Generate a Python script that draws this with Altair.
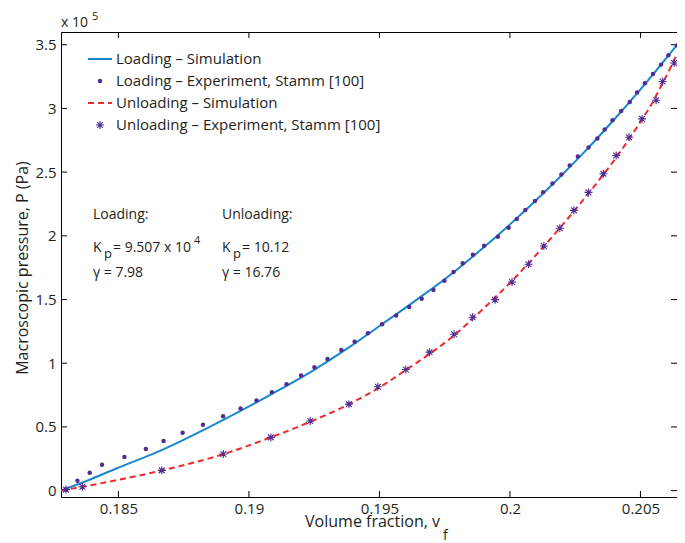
import altair as alt
import pandas as pd

# ---------------- data (P in units of 1e5 Pa) ----------------
load_sim_v = [0.1828, 0.1836, 0.1849, 0.1867, 0.1890, 0.1908, 0.1925, 0.1938, 0.1950,
              0.1963, 0.1976, 0.1990, 0.2000, 0.2010, 0.2020, 0.2030, 0.2040, 0.2050, 0.20652]
load_sim_p = [0.0, 0.062, 0.172, 0.322, 0.553, 0.75, 0.948, 1.12, 1.292,
              1.48, 1.675, 1.91, 2.09, 2.28, 2.48, 2.69, 2.915, 3.15, 3.53]

load_exp_v = [0.18299, 0.18343, 0.18390, 0.18437, 0.18523, 0.18605, 0.18673, 0.18746, 0.18824,
              0.18901, 0.18968, 0.19029, 0.19088, 0.19144, 0.19200, 0.19251, 0.19301, 0.19354,
              0.19405, 0.19456, 0.19510, 0.19564, 0.19614, 0.19662, 0.19707, 0.19749, 0.19784,
              0.19819, 0.19858, 0.19901, 0.19954, 0.19995, 0.20026, 0.20059, 0.20096, 0.20127,
              0.20163, 0.20197, 0.20229, 0.20260, 0.20301, 0.20335, 0.20363, 0.20393, 0.20426,
              0.20459, 0.20487, 0.20517, 0.20548, 0.20579, 0.20607, 0.20640]
load_exp_p = [0.008, 0.078, 0.141, 0.204, 0.264, 0.326, 0.389, 0.455, 0.517,
              0.583, 0.645, 0.708, 0.773, 0.836, 0.904, 0.969, 1.034, 1.103,
              1.168, 1.236, 1.306, 1.374, 1.442, 1.507, 1.575, 1.648, 1.716,
              1.784, 1.852, 1.922, 1.993, 2.064, 2.132, 2.202, 2.273, 2.343,
              2.411, 2.482, 2.553, 2.623, 2.694, 2.764, 2.835, 2.908, 2.980,
              3.051, 3.125, 3.197, 3.270, 3.344, 3.417, 3.495]

unload_sim_v = [0.1828, 0.1840, 0.1850, 0.1867, 0.1890, 0.1908, 0.1924, 0.1938, 0.1950,
                0.1960, 0.1970, 0.1979, 0.1986, 0.1993, 0.2000, 0.2006, 0.2012, 0.2018,
                0.2024, 0.2030, 0.2035, 0.2040, 0.2045, 0.2050, 0.2054, 0.2058, 0.2062, 0.20652]
unload_sim_p = [0.0, 0.045, 0.085, 0.16, 0.285, 0.415, 0.545, 0.675, 0.81,
                0.945, 1.085, 1.225, 1.355, 1.49, 1.63, 1.76, 1.895, 2.035,
                2.18, 2.33, 2.46, 2.595, 2.74, 2.895, 3.025, 3.18, 3.34, 3.48]

unload_exp_v = [0.18299, 0.18362, 0.18666, 0.18902, 0.19084, 0.19235, 0.19383, 0.19494,
                0.19601, 0.19692, 0.19786, 0.19857, 0.19943, 0.20008, 0.20071, 0.20130,
                0.20191, 0.20245, 0.20301, 0.20358, 0.20407, 0.20456, 0.20506, 0.20560,
                0.20585, 0.20629]
unload_exp_p = [0.008, 0.031, 0.159, 0.287, 0.418, 0.546, 0.679, 0.815,
                0.951, 1.087, 1.228, 1.361, 1.499, 1.638, 1.777, 1.920,
                2.059, 2.200, 2.341, 2.487, 2.631, 2.774, 2.918, 3.064,
                3.211, 3.357]

x_ticks = [0.185, 0.19, 0.195, 0.2, 0.205]
y_ticks = [0, 0.5, 1, 1.5, 2, 2.5, 3, 3.5]

legend_labels = ["Loading \u2013 Simulation",
                 "Loading \u2013 Experiment, Stamm [100]",
                 "Unloading \u2013 Simulation",
                 "Unloading \u2013 Experiment, Stamm [100]"]

# ---------------- styling ----------------
W, H = 616, 465
FONT = "Open Sans"
TXT = "#231f20"
BLUE = "#1a86cf"
RED = "#ee2a2e"
PURPLE = "#4f2d93"
ASTERISK = "M-1,0L1,0M0,-1L0,1M-0.72,-0.72L0.72,0.72M-0.72,0.72L0.72,-0.72"

xscale = alt.Scale(domain=[0.1828, 0.2064], nice=False, zero=False)
yscale = alt.Scale(domain=[-0.05, 3.6], nice=False, zero=False)

X = alt.X("v:Q", scale=xscale,
          axis=alt.Axis(values=x_ticks, format="~g", ticks=False, domain=False, grid=False,
                        labelFont=FONT, labelFontSize=15, labelColor=TXT, labelPadding=4,
                        title=None, labelFlush=False))
Y = alt.Y("p:Q", scale=yscale,
          axis=alt.Axis(values=y_ticks, format="~g", ticks=False, domain=False, grid=False,
                        labelFont=FONT, labelFontSize=15, labelColor=TXT, labelPadding=5,
                        title=None, labelFlush=False))


def frame(v, p):
    return pd.DataFrame({"v": v, "p": p, "i": list(range(len(v)))})


blue_line = alt.Chart(frame(load_sim_v, load_sim_p)).mark_line(
    color=BLUE, strokeWidth=2, interpolate="monotone", clip=True
).encode(x=X, y=Y, order="i:Q")

dots = alt.Chart(frame(load_exp_v, load_exp_p)).mark_circle(
    color=PURPLE, size=20, opacity=1
).encode(x=X, y=Y)

red_line = alt.Chart(frame(unload_sim_v, unload_sim_p)).mark_line(
    color=RED, strokeWidth=2, strokeDash=[6, 4], interpolate="monotone", clip=True
).encode(x=X, y=Y, order="i:Q")

stars = alt.Chart(frame(unload_exp_v, unload_exp_p)).mark_point(
    shape=ASTERISK, filled=False, color=PURPLE, size=64, strokeWidth=1.1, opacity=1
).encode(x=X, y=Y)

# inward ticks on all four sides
xt = pd.DataFrame({"v": x_ticks})
yt = pd.DataFrame({"p": y_ticks})
tick_kw = dict(color="#000000", strokeWidth=1)
ticks = [
    alt.Chart(xt).mark_rule(**tick_kw).encode(x=X, y=alt.value(H), y2=alt.value(H - 6)),
    alt.Chart(xt).mark_rule(**tick_kw).encode(x=X, y=alt.value(0), y2=alt.value(6)),
    alt.Chart(yt).mark_rule(**tick_kw).encode(y=Y, x=alt.value(0), x2=alt.value(6)),
    alt.Chart(yt).mark_rule(**tick_kw).encode(y=Y, x=alt.value(W), x2=alt.value(W - 6)),
]


def text(s, x, y, size=15, align="left", baseline="middle", angle=0):
    kw = dict(font=FONT, fontSize=size, color=TXT, align=align, baseline=baseline)
    if angle:
        kw["angle"] = angle
    return alt.Chart(pd.DataFrame({"t": [s]})).mark_text(**kw).encode(
        x=alt.value(x), y=alt.value(y), text="t:N")


one = pd.DataFrame({"k": [0]})
legend = [
    alt.Chart(one).mark_rule(color=BLUE, strokeWidth=2).encode(
        x=alt.value(27), x2=alt.value(51), y=alt.value(27)),
    alt.Chart(one).mark_circle(color=PURPLE, size=20, opacity=1).encode(
        x=alt.value(39), y=alt.value(49)),
    alt.Chart(one).mark_rule(color=RED, strokeWidth=2, strokeDash=[6, 4]).encode(
        x=alt.value(27), x2=alt.value(51), y=alt.value(71)),
    alt.Chart(one).mark_point(shape=ASTERISK, filled=False, color=PURPLE, size=64,
                              strokeWidth=1.1, opacity=1).encode(
        x=alt.value(39), y=alt.value(93)),
    text(legend_labels[0], 55, 27),
    text(legend_labels[1], 55, 49),
    text(legend_labels[2], 55, 71),
    text(legend_labels[3], 55, 93),
]

A = "alphabetic"
annot = [
    text("Loading:", 32, 187, 14, baseline=A),
    text("Unloading:", 161, 187, 14, baseline=A),
    text("K", 32, 220, 14, baseline=A),
    text("p", 43, 226, 13, baseline=A),
    text("= 9.507 x 10", 52, 220, 14, baseline=A),
    text("4", 133, 212, 11, baseline=A),
    text("\u03b3 = 7.98", 32, 245, 14, baseline=A),
    text("K", 161, 220, 14, baseline=A),
    text("p", 172, 226, 13, baseline=A),
    text("= 10.12", 181, 220, 14, baseline=A),
    text("\u03b3 = 16.76", 161, 245, 14, baseline=A),
]

titles = [
    text("Macroscopic pressure, P (Pa)", -38, 236, 16, align="center", angle=270),
    text("Volume fraction, v", 379, 495, 16, align="right", baseline=A),
    text("f", 382, 508, 14, baseline=A),
    text("x 10", 0, -5, 14, baseline=A),
    text("5", 31, -15, 11),
]

chart = alt.layer(
    *ticks, blue_line, dots, red_line, stars, *legend, *annot, *titles
).properties(
    width=W, height=H,
    autosize=alt.AutoSizeParams(type="none"),
    padding={"left": 53, "top": 24, "right": 0, "bottom": 46},
    background="white",
).configure_view(stroke="#000000", strokeWidth=1)

chart.save("out.html", embed_options={"renderer": "svg", "actions": False})
